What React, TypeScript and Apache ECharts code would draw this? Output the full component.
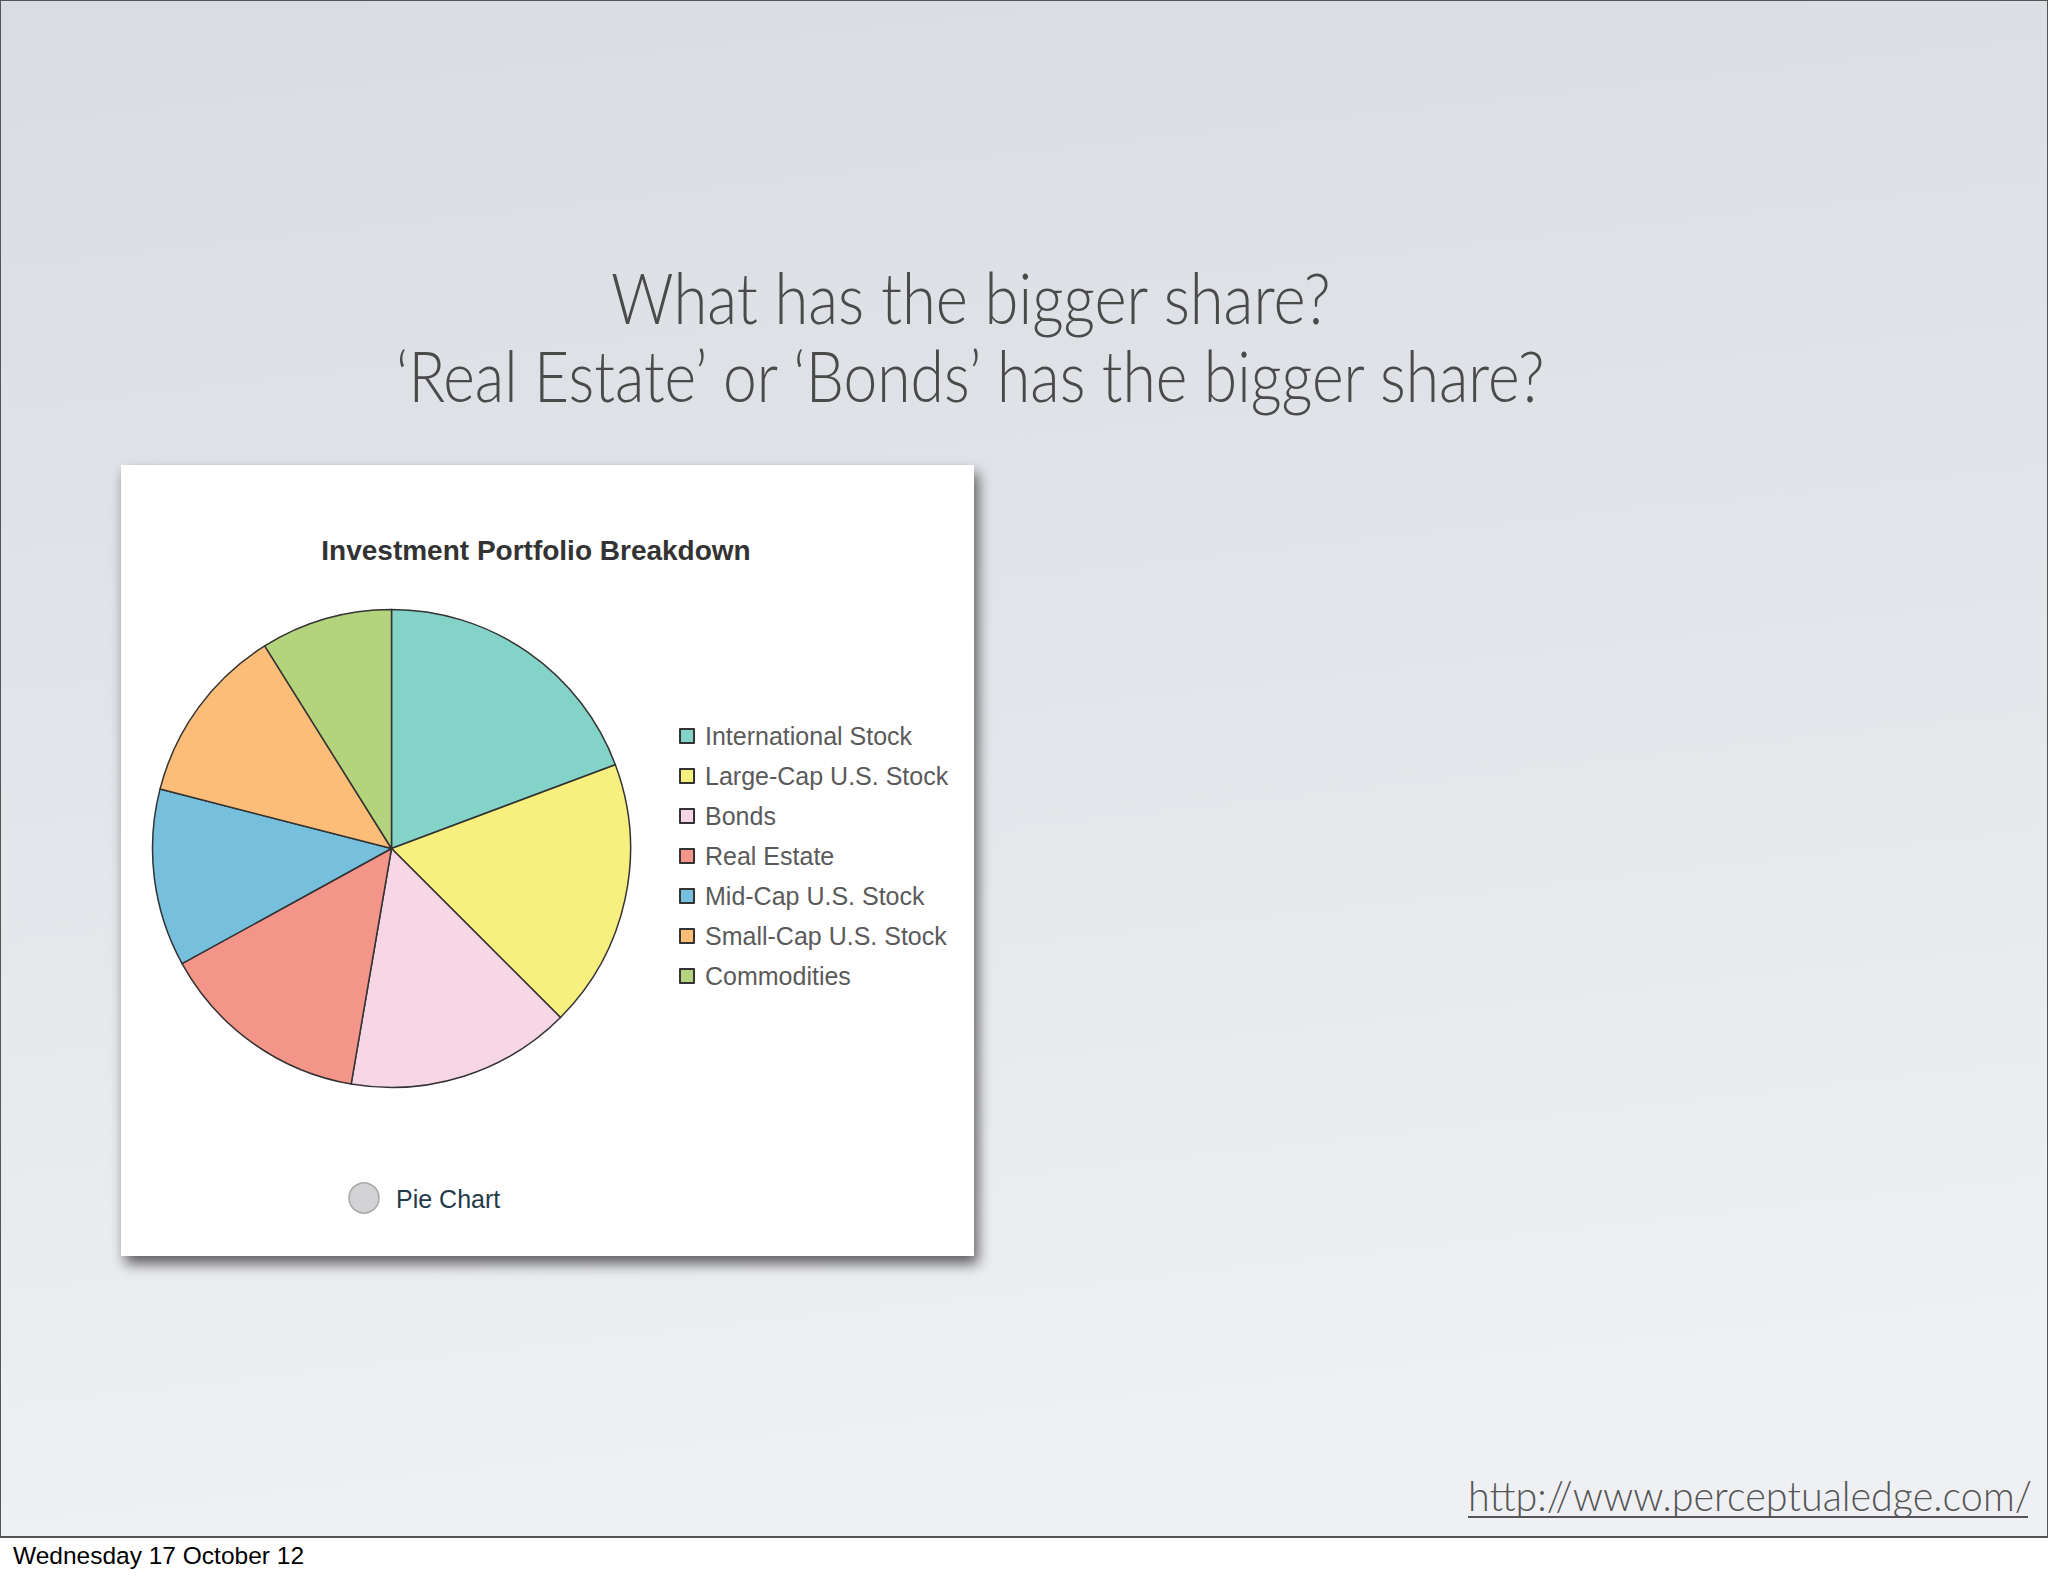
import React, { useEffect, useRef } from "react";
import * as echarts from "echarts";

const categories = [
  "International Stock",
  "Large-Cap U.S. Stock",
  "Bonds",
  "Real Estate",
  "Mid-Cap U.S. Stock",
  "Small-Cap U.S. Stock",
  "Commodities",
];
const shares = [19.3, 18.2, 15.2, 14.3, 12.0, 12.1, 8.9];
const colors = ["#84d3c9", "#f7ef7e", "#f7d6e5", "#f4958a", "#76bfdd", "#fbbd78", "#b3d47d"];

const headline1 = "What has the bigger share?";
const headline2 = "\u2018Real Estate\u2019 or \u2018Bonds\u2019 has the bigger share?";
const chartTitle = "Investment Portfolio Breakdown";
const radioLabel = "Pie Chart";
const urlText = "http://www.perceptualedge.com/";
const footerText = "Wednesday 17 October 12";

const W = 2048;
const H = 1576;

function measure(text: string, font: string): number {
  const c = document.createElement("canvas");
  const ctx = c.getContext("2d");
  if (!ctx) return 1;
  ctx.font = font;
  return ctx.measureText(text).width || 1;
}

export default function App() {
  const ref = useRef<HTMLDivElement>(null);

  useEffect(() => {
    if (!ref.current) return;
    const chart = echarts.init(ref.current, undefined, { renderer: "svg", width: W, height: H });

    const headFont = "Lato";
    const headSize = 70;
    const w1 = measure(headline1, `300 ${headSize}px ${headFont}`);
    const w2 = measure(headline2, `300 ${headSize}px ${headFont}`);
    const urlSize = 42;
    const wu = measure(urlText, `300 ${urlSize}px ${headFont}`);

    const l1 = { left: 611, width: 721 };
    const l2 = { left: 396, width: 1153 };
    const lu = { left: 1468, width: 564 };

    chart.setOption({
      animation: false,
      graphic: [
        {
          type: "rect",
          z: -10,
          shape: { x: 0, y: 0, width: W, height: 1537 },
          style: {
            fill: {
              type: "linear",
              x: 0,
              y: 0,
              x2: 0.15,
              y2: 1,
              colorStops: [
                { offset: 0, color: "#d9dce2" },
                { offset: 0.5, color: "#e3e5ea" },
                { offset: 1, color: "#eff0f3" },
              ],
            },
            stroke: "#555",
            lineWidth: 2,
          },
        },
        {
          type: "text",
          z: 1,
          x: l1.left,
          y: 297,
          scaleX: l1.width / w1,
          style: {
            text: headline1,
            font: `300 ${headSize}px ${headFont}`,
            fill: "#4a4a4a",
            textAlign: "left",
            textVerticalAlign: "middle",
          },
        },
        {
          type: "text",
          z: 1,
          x: l2.left,
          y: 375,
          scaleX: l2.width / w2,
          style: {
            text: headline2,
            font: `300 ${headSize}px ${headFont}`,
            fill: "#4a4a4a",
            textAlign: "left",
            textVerticalAlign: "middle",
          },
        },
        {
          type: "rect",
          z: 0,
          shape: { x: 121, y: 465, width: 853, height: 791 },
          style: {
            fill: "#ffffff",
            shadowBlur: 14,
            shadowOffsetX: 4,
            shadowOffsetY: 8,
            shadowColor: "rgba(0,0,0,0.6)",
          },
        },
        {
          type: "text",
          z: 1,
          x: 536,
          y: 550,
          style: {
            text: chartTitle,
            font: "bold 28px 'Liberation Sans', Arial, sans-serif",
            fill: "#333333",
            textAlign: "center",
            textVerticalAlign: "middle",
          },
        },
        {
          type: "circle",
          z: 1,
          shape: { cx: 364, cy: 1198, r: 15 },
          style: { fill: "#d3d3d5", stroke: "#a9a9ab", lineWidth: 1.5 },
        },
        {
          type: "text",
          z: 1,
          x: 396,
          y: 1199,
          style: {
            text: radioLabel,
            font: "25px 'Liberation Sans', Arial, sans-serif",
            fill: "#1f3a4b",
            textAlign: "left",
            textVerticalAlign: "middle",
          },
        },
        {
          type: "text",
          z: 1,
          x: lu.left,
          y: 1495,
          scaleX: lu.width / wu,
          style: {
            text: urlText,
            font: `300 ${urlSize}px ${headFont}`,
            fill: "#555555",
            textAlign: "left",
            textVerticalAlign: "middle",
          },
        },
        {
          type: "line",
          z: 1,
          shape: { x1: lu.left, y1: 1517, x2: lu.left + lu.width - 4, y2: 1517 },
          style: { stroke: "#555555", lineWidth: 2 },
        },
        {
          type: "text",
          z: 1,
          x: 13,
          y: 1555,
          style: {
            text: footerText,
            font: "24.5px 'Liberation Sans', Arial, sans-serif",
            fill: "#000000",
            textAlign: "left",
            textVerticalAlign: "middle",
          },
        },
      ],
      legend: {
        orient: "vertical",
        left: 674,
        top: 718,
        itemWidth: 14,
        itemHeight: 14,
        itemGap: 14,
        icon: "rect",
        selectedMode: false,
        data: categories,
        textStyle: {
          fontSize: 25,
          lineHeight: 26,
          color: "#5a5a5a",
          fontFamily: "'Liberation Sans', Arial, sans-serif",
          padding: [0, 0, 0, 6],
        },
      },
      series: [
        {
          type: "pie",
          z: 5,
          center: [391.5, 848.5],
          radius: 239,
          startAngle: 90,
          clockwise: true,
          label: { show: false },
          labelLine: { show: false },
          emphasis: { disabled: true },
          itemStyle: { borderColor: "#333333", borderWidth: 1.5 },
          data: categories.map((name, i) => ({
            name,
            value: shares[i],
            itemStyle: { color: colors[i] },
          })),
        },
      ],
    });

    return () => chart.dispose();
  }, []);

  return (
    <div
      ref={ref}
      style={{ position: "absolute", left: 0, top: 0, width: W, height: H, background: "#ffffff" }}
    />
  );
}
